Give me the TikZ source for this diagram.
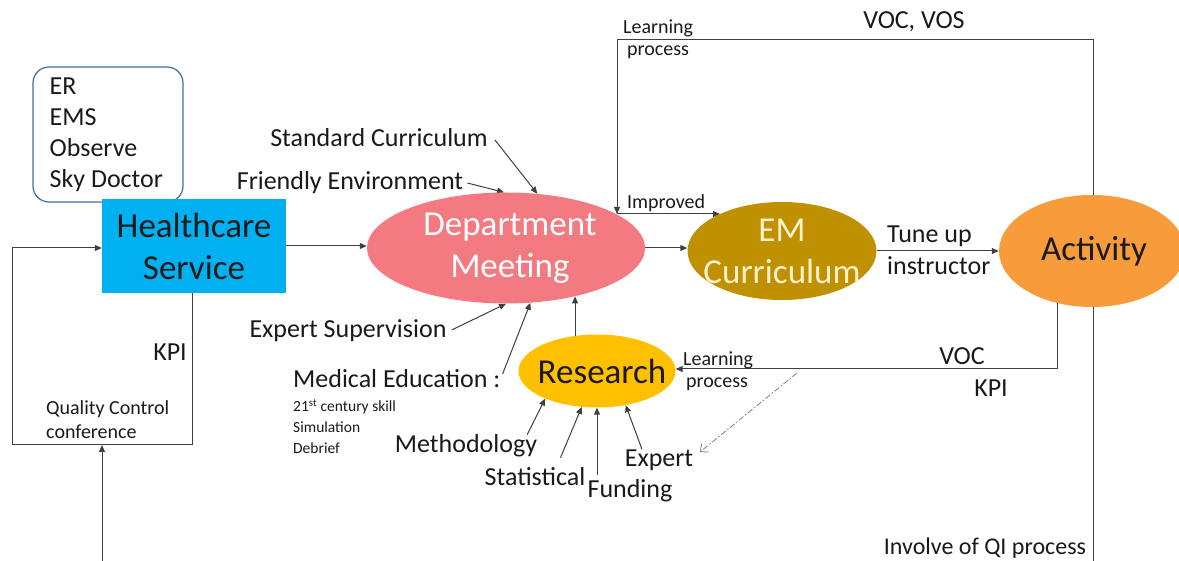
\documentclass[tikz,border=0pt]{standalone}
\usepackage{fontspec}
\setmainfont{Carlito}
\usetikzlibrary{shapes.geometric,arrows.meta,backgrounds,calc}

\definecolor{hcblue}{HTML}{00B0F0}
\definecolor{dmpink}{HTML}{F27A80}
\definecolor{emgold}{HTML}{BF9000}
\definecolor{emtext}{HTML}{FFF2CC}
\definecolor{actorange}{HTML}{F89B3A}
\definecolor{rsyellow}{HTML}{FFC000}
\definecolor{linegray}{HTML}{404040}
\definecolor{boxedge}{HTML}{41719C}
\definecolor{inktext}{HTML}{1A1A1A}

\tikzset{
  big/.style={font=\fontsize{35}{42}\selectfont},
  mid/.style={font=\fontsize{26}{31}\selectfont},
  small/.style={font=\fontsize{20}{24}\selectfont},
  tiny/.style={font=\fontsize{15.5}{21}\selectfont},
  lbl/.style={inner sep=0pt, text=inktext},
  blob/.style={ellipse, inner sep=0pt, draw=none},
  arr/.style={draw=linegray, line width=1pt, -{Triangle[length=7pt,width=6pt]}},
  link/.style={draw=linegray, line width=1pt},
  hint/.style={draw=gray, line width=0.8pt, dash pattern=on 6pt off 2pt on 1.5pt off 2pt,
               -{Straight Barb[length=6pt,width=11pt]}},
}

\begin{document}
\begin{tikzpicture}[x=1pt,y=-1pt]
\useasboundingbox (0,0) rectangle (1179,561);

% ---------- main boxes ----------
\node[draw=boxedge, line width=1.2pt, rounded corners=16pt, minimum width=150pt,
      minimum height=135pt, inner sep=0pt] (er) at (108,134.5) {};
\node[lbl, mid, align=left, anchor=west] (ertxt) at ([xshift=17pt]er.west)
      {ER\\EMS\\Observe\\Sky Doctor};

\node[rectangle, fill=hcblue, minimum width=184pt, minimum height=94pt, inner sep=0pt,
      big, align=center, text=inktext] (hc) at (194,246) {Healthcare\\Service};

\node[blob, fill=dmpink, minimum width=278pt, minimum height=111pt] (dm) at (506,248) {};
\node[lbl, big, align=center, text=white] (dmtxt) at ([xshift=4pt]dm.center) {Department\\Meeting};

\node[blob, fill=emgold, minimum width=189pt, minimum height=98pt] (em) at (782,251) {};
\node[lbl, big, align=center, text=emtext] (emtxt) at (em.center) {EM\\Curriculum};

\node[blob, fill=actorange, minimum width=186pt, minimum height=112pt] (act) at (1092,251) {};
\node[lbl, big, text=inktext] (acttxt) at ([xshift=2pt]act.center) {Activity};

\node[blob, fill=rsyellow, minimum width=157pt, minimum height=73pt] (rs) at (597,371) {};
\node[lbl, big, text=inktext] (rstxt) at ([xshift=5pt]rs.center) {Research};

% ---------- labels ----------
\node[lbl,mid] (sc) at (379,138) {Standard Curriculum};
\node[lbl,mid] (fe) at (350,183) {Friendly Environment};
\node[lbl,mid] (es) at (348,331) {Expert Supervision};
\node[lbl,mid,anchor=west] (me) at (293,379) {Medical Education :};
\node[lbl,tiny,anchor=west,align=left] (mesub) at (293,427)
      {21\textsuperscript{st} century skill\\Simulation\\Debrief};
\node[lbl,mid] (meth) at (466,446) {Methodology};
\node[lbl,mid] (stat) at (535,477) {Statistical};
\node[lbl,mid] (fund) at (630,491) {Funding};
\node[lbl,mid] (ex) at (659,460) {Expert};
\node[lbl,small,anchor=west] (lpba) at (683,360) {Learning};
\node[lbl,small,anchor=west] (lpbb) at (686,384) {process};
\node[lbl,mid] (voc) at (962,356) {VOC};
\node[lbl,mid] (kpib) at (991,388) {KPI};
\node[lbl,font=\fontsize{24}{29}\selectfont] (qi) at (985,548) {Involve of QI process};
\node[lbl,mid] (vocvos) at (914,22) {VOC, VOS};
\node[lbl,small,anchor=west] (lpta) at (623,28) {Learning};
\node[lbl,small,anchor=west] (lptb) at (627,52) {process};
\node[lbl,small,anchor=west] (impl) at (627,203) {Improved};
\node[lbl,mid,anchor=west] (tu) at (887,236) {Tune up};
\node[lbl,mid,anchor=west] (ins) at (887,266) {instructor};
\node[lbl,mid] (kpia) at (170,352) {KPI};
\node[lbl,small,anchor=west,align=left] (qc) at (46,420) {Quality Control\\conference};

% ---------- route corners ----------
\coordinate (lpL) at (617,40);
\coordinate (lpR) at (1093,40);
\coordinate (impS) at (617,214);
\coordinate (impE) at (720,214);
\coordinate (qcR) at (192,445);
\coordinate (qcL) at (12,445);
\coordinate (qcT) at (12,248);
\coordinate (botS) at (102,561);
\coordinate (vocC) at (1057,369);
\coordinate (qiE) at (1093,561);
\coordinate (dsA) at (797,373);
\coordinate (dsB) at (700,452);

% ---------- connectors (behind the shapes) ----------
\begin{scope}[on background layer]
  \fill[white] (0,0) rectangle (1179,561);
  \draw[arr] (act.center -| lpR) -- (lpR) -- (lpL) -- (impS);
  \draw[arr] (impS) -- (impE);
  \draw[arr] (hc.east) -- (hc.east -| dm.west);
  \draw[arr] (hc.center -| qcR) -- (qcR) -- (qcL) -- (qcT) -- (qcT -| hc.west);
  \draw[arr] (botS) -- (botS |- qcL);
  \draw[arr] (dm.east) -- (dm.east -| em.west);
  \draw[arr] (em.east) -- (act.west);
  \draw[arr] (act.center -| vocC) -- (vocC) -- (vocC -| rs.east);
  \draw[link] (act.center -| qiE) -- (qiE);
  \draw[hint] (dsA) -- (dsB);
  \draw[arr] (dm.-35 |- rs.center) -- (dm.-35);

  % inputs to the department meeting
  \draw[arr] ([xshift=7pt,yshift=-2pt]sc.east) -- (dm.60);
  \draw[arr] ([xshift=4pt]fe.east) -- (dm.92);
  \draw[arr] ([xshift=5pt,yshift=1pt]es.east) -- (dm.south);
  \draw[arr] ([xshift=2pt,yshift=5pt]me.east) -- (dm.-66);

  % inputs to research
  \draw[arr] ([xshift=-10pt]meth.north east) -- (rs.208);
  \draw[arr] ([xshift=-25pt,yshift=10pt]stat.north east) -- (rs.247);
  \draw[arr] ($(fund.north -| rs.south)+(0,-5)$) -- (rs.south);
  \draw[arr] ([xshift=-17pt]ex.north) -- (rs.-50);
\end{scope}
\end{tikzpicture}
\end{document}
